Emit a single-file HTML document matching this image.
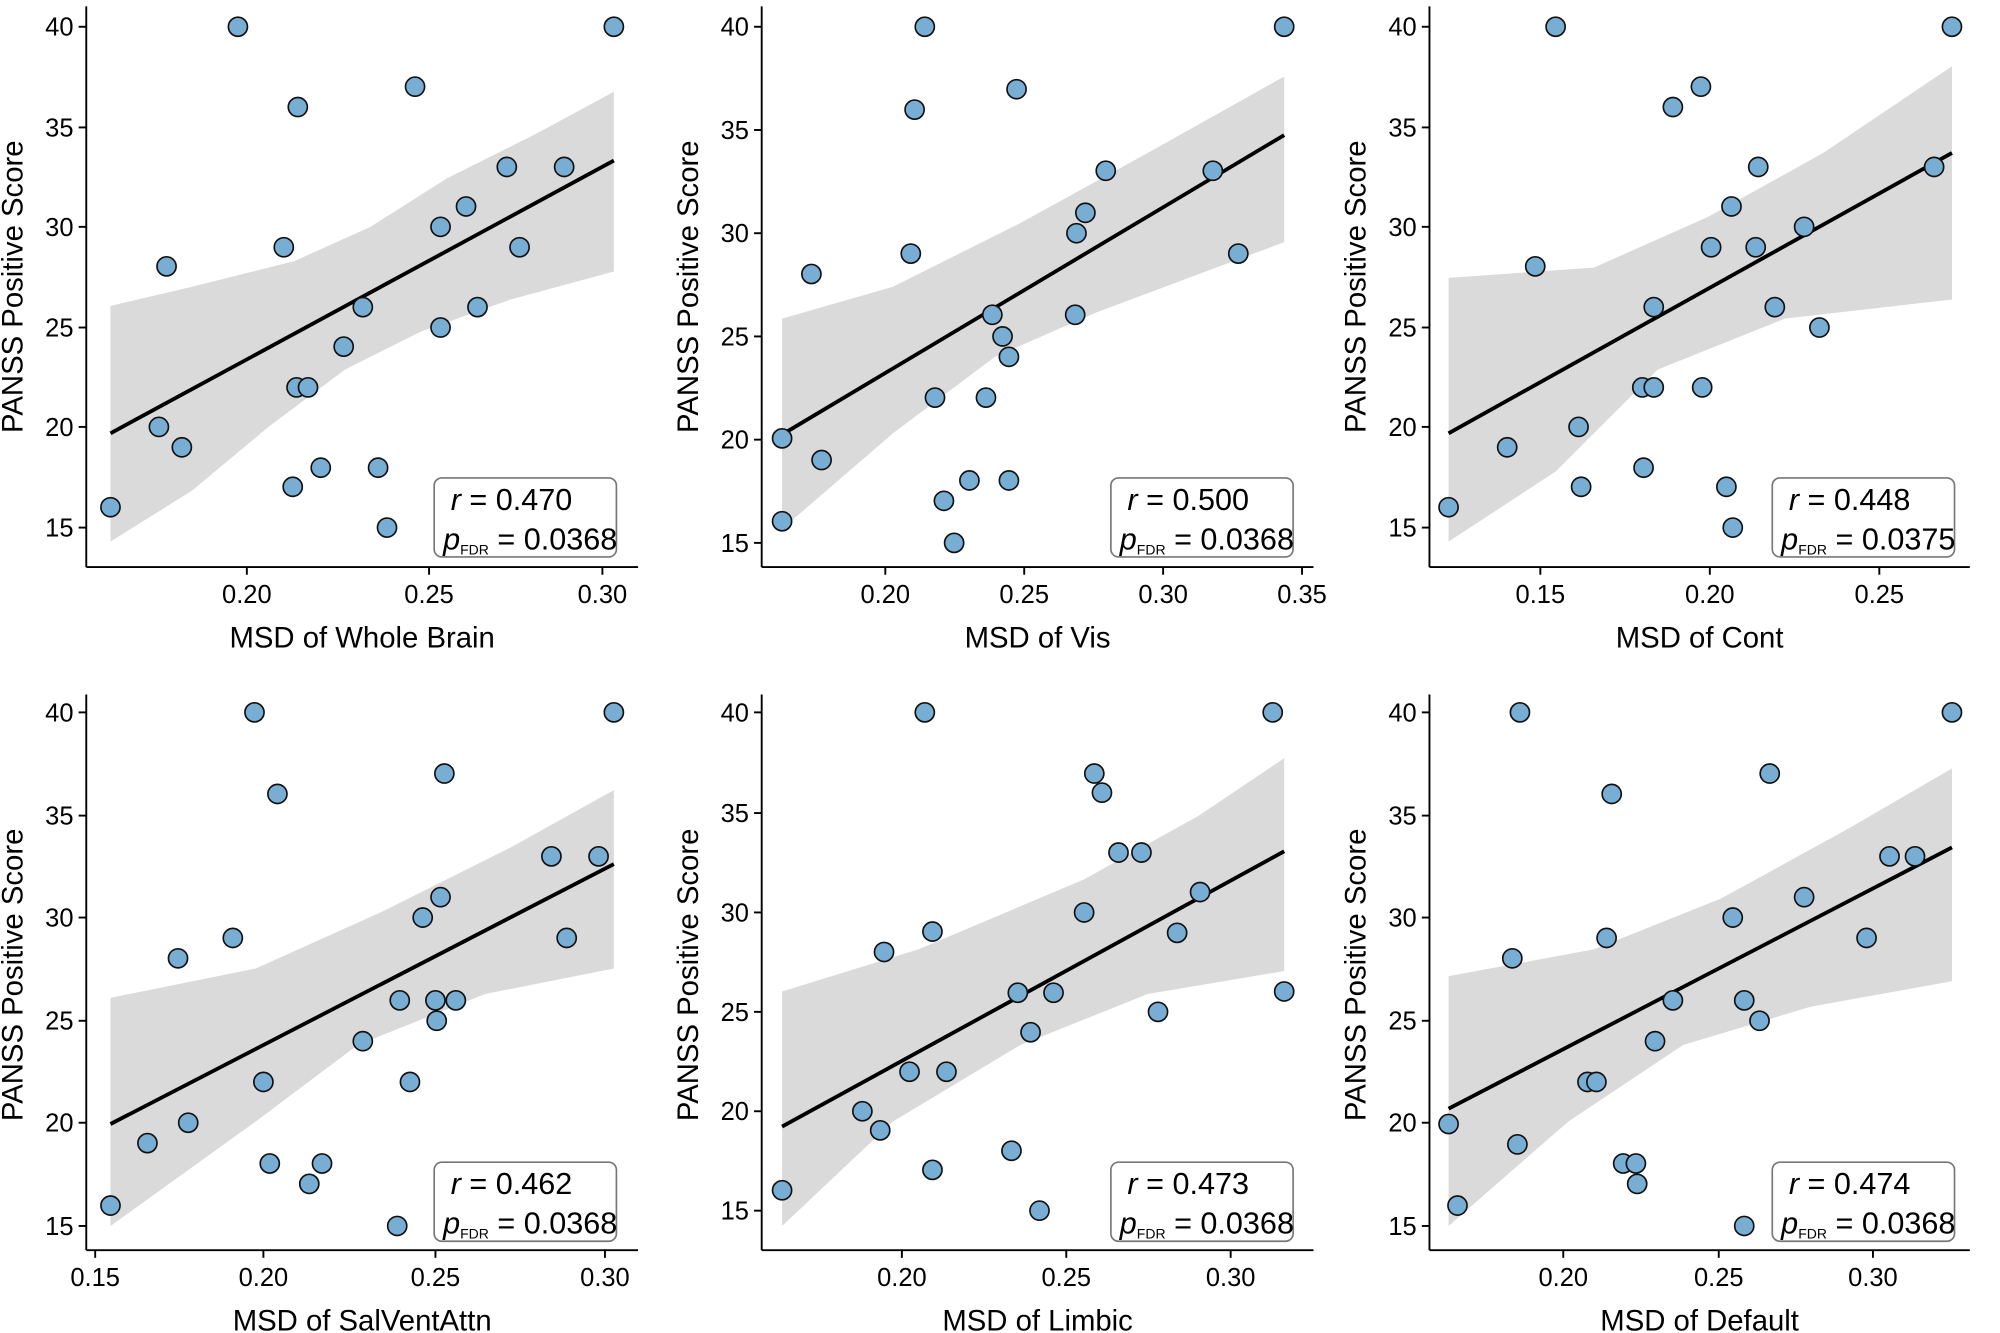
<!DOCTYPE html>
<html><head><meta charset="utf-8"><style>
html,body{margin:0;padding:0;background:#fff;}
svg{display:block;font-family:"Liberation Sans",Arial,sans-serif;}
</style></head><body>
<svg id="s" width="2000" height="1333" viewBox="0 0 1568 1046" xmlns="http://www.w3.org/2000/svg"></svg>
<script>
const P=[
{ax:67,ay:445,ax2:500,yt:[[15,414],[20,335],[25,257],[30,178],[35,100],[40,21]],xt:[["0.20",193],["0.25",336],["0.30",472]],xl:"MSD of Whole Brain",
pts:[[86,398],[124,335],[142,351],[130,209],[186,21],[222,194],[233,84],[229,382],[232,304],[241,304],[251,367],[269,272],[284,241],[296,367],[303,414],[325,68],[345,178],[345,257],[365,162],[374,241],[397,131],[407,194],[442,131],[481,21]],
line:[86,340,481,126],up:[[86,240],[150,225],[230,205],[290,178],[350,140],[420,105],[481,72]],lo:[[86,425],[150,385],[210,335],[270,290],[330,260],[400,235],[481,213]],
box:[340,375],r:"0.470",p:"0.0368",cy:225},
{ax:597,ay:445,ax2:1030,yt:[[15,426],[20,345],[25,264],[30,183],[35,102],[40,21]],xt:[["0.20",694],["0.25",803],["0.30",912],["0.35",1021]],xl:"MSD of Vis",
pts:[[613,344],[613,409],[644,361],[636,215],[714,199],[717,86],[725,21],[733,312],[740,393],[748,426],[760,377],[773,312],[778,247],[786,264],[791,280],[791,377],[797,70],[843,247],[844,183],[851,167],[867,134],[951,134],[971,199],[1007,21]],
line:[613,341,1007,106],up:[[613,250],[700,225],[800,175],[900,120],[1007,60]],lo:[[613,415],[700,340],[780,280],[860,245],[1007,190]],
box:[871,375],r:"0.500",p:"0.0368",cy:225},
{ax:1121,ay:445,ax2:1545,yt:[[15,414],[20,335],[25,257],[30,178],[35,100],[40,21]],xt:[["0.15",1208],["0.20",1341],["0.25",1474]],xl:"MSD of Cont",
pts:[[1136,398],[1182,351],[1204,209],[1220,21],[1238,335],[1240,382],[1288,304],[1289,367],[1297,241],[1297,304],[1312,84],[1334,68],[1335,304],[1342,194],[1354,382],[1358,162],[1359,414],[1377,194],[1379,131],[1392,241],[1415,178],[1427,257],[1517,131],[1531,21]],
line:[1136,340,1531,120],up:[[1136,218],[1250,210],[1340,170],[1430,120],[1531,52]],lo:[[1136,425],[1220,370],[1300,290],[1400,250],[1531,235]],
box:[1390,375],r:"0.448",p:"0.0375",cy:225},
{ax:67,ay:981,ax2:500,yt:[[15,962],[20,881],[25,801],[30,720],[35,640],[40,559]],xt:[["0.15",74],["0.20",206],["0.25",341],["0.30",474]],xl:"MSD of SalVentAttn",
pts:[[86,946],[115,897],[147,881],[139,752],[182,736],[199,559],[206,849],[217,623],[211,913],[242,929],[252,913],[284,817],[321,849],[331,720],[313,785],[341,785],[342,801],[345,704],[348,607],[357,785],[432,672],[444,736],[469,672],[481,559],[311,962]],
line:[86,882,481,678],up:[[86,783],[200,760],[300,715],[400,665],[481,620]],lo:[[86,962],[200,880],[280,820],[380,780],[481,760]],
box:[340,912],r:"0.462",p:"0.0368",cy:765},
{ax:597,ay:981,ax2:1030,yt:[[15,950],[20,872],[25,794],[30,716],[35,638],[40,559]],xt:[["0.20",707],["0.25",836],["0.30",965]],xl:"MSD of Limbic",
pts:[[613,934],[676,872],[690,887],[693,747],[713,841],[725,559],[731,731],[731,918],[742,841],[793,903],[798,779],[808,810],[815,950],[826,779],[850,716],[858,607],[864,622],[877,669],[895,669],[908,794],[923,732],[941,700],[998,559],[1007,778]],
line:[613,884,1007,668],up:[[613,778],[720,745],[850,690],[940,640],[1007,595]],lo:[[613,962],[700,880],[800,820],[900,780],[1007,762]],
box:[871,912],r:"0.473",p:"0.0368",cy:765},
{ax:1121,ay:981,ax2:1545,yt:[[15,962],[20,881],[25,801],[30,720],[35,640],[40,559]],xt:[["0.20",1226],["0.25",1348],["0.30",1469]],xl:"MSD of Default",
pts:[[1136,882],[1143,946],[1186,752],[1190,898],[1192,559],[1245,849],[1252,849],[1260,736],[1264,623],[1273,913],[1283,913],[1284,929],[1298,817],[1312,785],[1359,720],[1368,785],[1380,801],[1388,607],[1368,962],[1415,704],[1464,736],[1482,672],[1502,672],[1531,559]],
line:[1136,870,1531,665],up:[[1136,766],[1250,745],[1350,705],[1450,650],[1531,603]],lo:[[1136,962],[1230,880],[1320,820],[1420,790],[1531,770]],
box:[1390,912],r:"0.474",p:"0.0368",cy:765}];
let h="";
P.forEach(q=>{
 const top=q.cy-220;
 const poly=q.up.concat(q.lo.slice().reverse()).map(a=>a.join(",")).join(" ");
 h+=`<polygon points="${poly}" fill="#dadada"/>`;
 h+=`<line x1="${q.line[0]}" y1="${q.line[1]}" x2="${q.line[2]}" y2="${q.line[3]}" stroke="#000" stroke-width="3"/>`;
 q.pts.forEach(p=>h+=`<circle cx="${p[0]}" cy="${p[1]}" r="7.5" fill="#78aed4" stroke="#111" stroke-width="1.3"/>`);
 h+=`<line x1="${q.ax}" y1="${top}" x2="${q.ax}" y2="${q.ay}" stroke="#000" stroke-width="1.5"/>`;
 h+=`<line x1="${q.ax}" y1="${q.ay}" x2="${q.ax2}" y2="${q.ay}" stroke="#000" stroke-width="1.5"/>`;
 q.yt.forEach(t=>{h+=`<line x1="${q.ax-6}" y1="${t[1]}" x2="${q.ax}" y2="${t[1]}" stroke="#000" stroke-width="1.5"/><text x="${q.ax-10}" y="${t[1]+7}" font-size="20" text-anchor="end">${t[0]}</text>`;});
 q.xt.forEach(t=>{h+=`<line x1="${t[1]}" y1="${q.ay}" x2="${t[1]}" y2="${q.ay+6}" stroke="#000" stroke-width="1.5"/><text x="${t[1]}" y="${q.ay+28}" font-size="20" text-anchor="middle">${t[0]}</text>`;});
 const cx=(q.ax+q.ax2)/2;
 h+=`<text x="${cx}" y="${q.ay+63}" font-size="23" text-anchor="middle">${q.xl}</text>`;
 h+=`<text transform="translate(${q.ax-50},${q.cy}) rotate(-90)" font-size="23" text-anchor="middle">PANSS Positive Score</text>`;
 const bx=q.box[0],by=q.box[1];
 h+=`<rect x="${bx}" y="${by}" width="143" height="62" rx="6" fill="#fff" stroke="#777" stroke-width="1.3"/>`;
 h+=`<text x="${bx+13}" y="${by+25}" font-size="24"><tspan font-style="italic">r</tspan> = ${q.r}</text>`;
 h+=`<text x="${bx+7}" y="${by+56}" font-size="24"><tspan font-style="italic">p</tspan><tspan font-size="11" dy="4">FDR</tspan><tspan dy="-4"> = ${q.p}</tspan></text>`;
});
document.getElementById("s").innerHTML=h;
</script>
</body></html>
